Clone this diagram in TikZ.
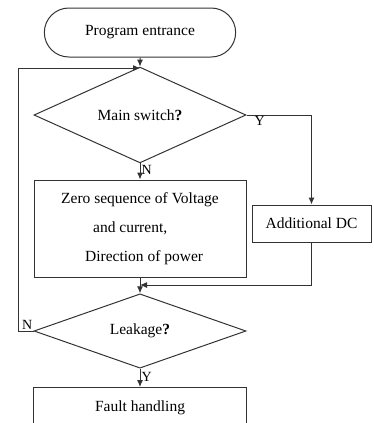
\documentclass[tikz,border=0pt]{standalone}
\usepackage{fontspec}
\setmainfont{Liberation Serif}
\usetikzlibrary{arrows,arrows.meta}
\usetikzlibrary{shapes.geometric,shapes.misc}

\begin{document}
\begin{tikzpicture}[x=1pt,y=-1pt,line width=1pt,draw=black!80,>={Latex[length=7pt,width=6pt]},
  font=\fontsize{15.5}{29}\selectfont,
  procbox/.style={draw,rectangle,inner sep=2pt},
  testbox/.style={draw,diamond,inner sep=0pt,minimum width=212pt,minimum height=63pt},
  flowlabel/.style={font=\fontsize{14}{14}\selectfont,inner sep=1pt}]
\useasboundingbox (0,0) rectangle (374,423);
\clip (0,0) rectangle (374,423);
\node[draw,rounded rectangle,minimum width=198pt,minimum height=49pt] (start) at (140,32.5) {Program entrance};
\node[testbox] (main) at (140,115) {Main switch\textbf{?}};
\node[procbox,minimum width=212pt,minimum height=97pt,align=left] (zero) at (140,228.5)
  {Zero sequence of Voltage\\\hspace*{32pt}and current,\\\hspace*{24pt}Direction of power};
\node[procbox,minimum width=119pt,minimum height=37pt] (dc) at (311.5,223.5) {Additional DC};
\node[testbox] (leak) at (140,331) {Leakage\textbf{?}};
\node[procbox,anchor=north,minimum width=213pt,minimum height=40pt] (fault) at (140,387) {Fault handling};
\coordinate (join1) at (140,68);
\coordinate (join2) at (140,285);
\coordinate (back) at (18,331);
\draw[->] (start) -- (main);
\draw[->] (main) -- node[flowlabel,right,pos=.4] {N} (zero);
\draw[->] (main.east) -| node[flowlabel,below right,pos=.05] {Y} (dc.north);
\draw[->] (dc.south) |- (join2);
\draw[->] (zero) -- (leak);
\draw[->] (leak.west) -- node[flowlabel,above,pos=.4] {N} (back) |- (join1);
\draw[->] (leak) -- node[flowlabel,right,pos=.45] {Y} (fault);
\end{tikzpicture}
\end{document}
